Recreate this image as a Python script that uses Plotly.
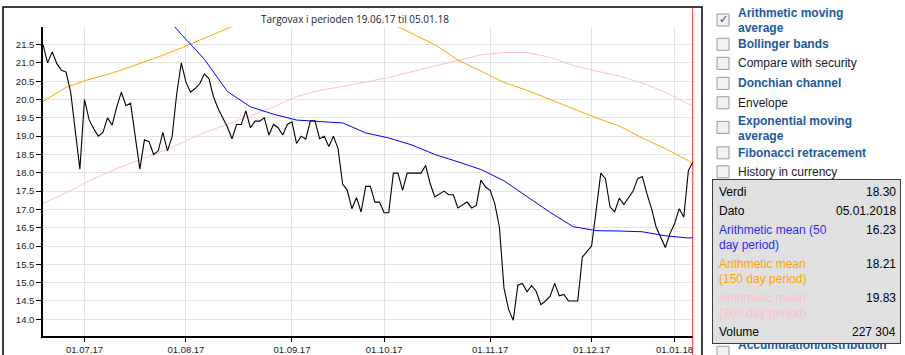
import plotly.graph_objects as go
import pandas as pd

# ---------------- data ----------------
title_text = "Targovax i perioden 19.06.17 til 05.01.18"
start_date, end_date = "2017-06-19", "2018-01-05"
holidays = ["2017-12-25", "2017-12-26", "2018-01-01"]
tick_months = ["2017-07-01", "2017-08-01", "2017-09-01", "2017-10-01",
               "2017-11-01", "2017-12-01", "2018-01-01"]
tick_labels = ["01.07.17", "01.08.17", "01.09.17", "01.10.17",
               "01.11.17", "01.12.17", "01.01.18"]

price = [21.5, 21.0, 21.3, 20.98, 20.8, 20.75, 20.2, 19.1, 18.1, 20.0,
         19.45, 19.2, 19.0, 19.1, 19.5, 19.3, 19.8, 20.2, 19.83, 19.9,
         19.0, 18.1, 18.9, 18.85, 18.5, 18.6, 19.1, 18.6, 18.98, 20.15,
         21.0, 20.48, 20.2, 20.3, 20.43, 20.7, 20.57, 20.07, 19.75, 19.48,
         19.25, 18.93, 19.32, 19.32, 19.69, 19.23, 19.41, 19.41, 19.5, 19.03,
         19.32, 19.23, 19.03, 19.32, 19.39, 18.8, 19.0, 18.92, 19.42, 19.42,
         18.93, 19.0, 18.72, 19.0, 18.66, 17.69, 17.52, 17.02, 17.32, 16.93,
         17.63, 17.63, 17.2, 17.2, 16.91, 16.91, 17.99, 17.99, 17.52, 17.99,
         17.99, 17.99, 17.99, 18.2, 17.7, 17.34, 17.41, 17.5, 17.4, 17.4,
         17.04, 17.11, 17.2, 17.04, 17.11, 17.8, 17.61, 17.52, 17.16, 16.52,
         14.85, 14.27, 13.97, 14.93, 14.98, 14.75, 14.92, 14.76, 14.4, 14.5,
         14.63, 14.98, 14.64, 14.68, 14.5, 14.5, 14.5, 15.7, 15.85, 16.0,
         16.98, 17.99, 17.84, 17.07, 16.93, 17.31, 17.13, 17.31, 17.5, 17.84,
         17.9, 17.43, 17.02, 16.52, 16.25, 15.96, 16.34, 16.61, 17.02, 16.79,
         18.06, 18.30]

ma_idx = [0, 5, 10, 15, 20, 25, 30, 35, 40, 45, 50, 55, 60, 65, 70, 75, 80,
          85, 90, 95, 100, 105, 110, 115, 120, 125, 130, 135, 140, 141]
ma50 = [23.6, 23.5, 23.4, 23.2, 22.9, 22.5, 21.78, 21.1, 20.22, 19.8, 19.6,
        19.44, 19.41, 19.36, 19.09, 18.95, 18.76, 18.5, 18.3, 18.09, 17.78,
        17.35, 16.92, 16.53, 16.42, 16.41, 16.39, 16.28, 16.22, 16.23]
ma150 = [19.95, 20.33, 20.55, 20.72, 20.94, 21.16, 21.41, 21.68, 21.95, 22.2,
         22.35, 22.45, 22.5, 22.45, 22.32, 22.12, 21.8, 21.5, 21.08, 20.77,
         20.47, 20.25, 20.0, 19.73, 19.5, 19.28, 18.95, 18.66, 18.33, 18.21]
ma200 = [17.16, 17.45, 17.78, 18.06, 18.31, 18.54, 18.81, 19.10, 19.32, 19.55,
         19.80, 20.08, 20.25, 20.36, 20.47, 20.60, 20.76, 20.92, 21.08, 21.22,
         21.28, 21.28, 21.15, 20.93, 20.78, 20.64, 20.45, 20.2, 19.88, 19.83]

y_ticks = [14.0, 14.5, 15.0, 15.5, 16.0, 16.5, 17.0, 17.5, 18.0, 18.5,
           19.0, 19.5, 20.0, 20.5, 21.0, 21.5]

panel_items = [  # (text, bold link, checked)
    ("Arithmetic moving<br>average", True, True),
    ("Bollinger bands", True, False),
    ("Compare with security", False, False),
    ("Donchian channel", True, False),
    ("Envelope", False, False),
    ("Exponential moving<br>average", True, False),
    ("Fibonacci retracement", True, False),
    ("History in currency", False, False),
]
tooltip_rows = [
    (["Verdi"], "18.30", "black"),
    (["Dato"], "05.01.2018", "black"),
    (["Arithmetic mean (50", "day period)"], "16.23", "#2b2bff"),
    (["Arithmetic mean", "(150 day period)"], "18.21", "#ffa500"),
    (["Arithmetic mean", "(200 day period)"], "19.83", "#ffc0cb"),
    (["Volume"], "227 304", "black"),
]

# ---------------- geometry ----------------
W, H = 905, 355
L, R, T, B = 43, 693, 27, 335.7


def PX(x):
    return (x - L) / (R - L)


def PY(y):
    return (B - y) / (B - T)


dates = pd.bdate_range(start_date, end_date, freq="C", holidays=holidays)
x_idx = list(range(len(price)))
tick_vals = [int((dates <= pd.Timestamp(m)).sum()) - 1 for m in tick_months]

fig = go.Figure()
fig.add_trace(go.Scatter(x=ma_idx, y=ma200, mode="lines",
                         line=dict(color="#ffc0cb", width=1), hoverinfo="skip"))
fig.add_trace(go.Scatter(x=ma_idx, y=ma150, mode="lines",
                         line=dict(color="#ffa500", width=1), hoverinfo="skip"))
fig.add_trace(go.Scatter(x=ma_idx, y=ma50, mode="lines",
                         line=dict(color="#0000ff", width=1), hoverinfo="skip"))
fig.add_trace(go.Scatter(x=x_idx, y=price, mode="lines",
                         line=dict(color="black", width=1.1), hoverinfo="skip"))

shapes = []
# outer frame
shapes.append(dict(type="rect", xref="paper", yref="paper",
                   x0=PX(3), x1=PX(702), y0=PY(362), y1=PY(7),
                   line=dict(color="black", width=1.5), layer="above"))
# red cursor line at the last point
shapes.append(dict(type="line", xref="x", yref="paper",
                   x0=x_idx[-1], x1=x_idx[-1], y0=PY(356), y1=PY(7),
                   line=dict(color="#ff0000", width=1.3), layer="above"))

annotations = []
annotations.append(dict(text=title_text, xref="paper", yref="paper",
                        x=PX(354.7), y=PY(19.5), xanchor="center", yanchor="middle",
                        showarrow=False,
                        font=dict(family="Open Sans", size=10, color="#222")))

# right panel checkboxes + labels
link_color = "#1c5a9e"
label_y = [13, 44.3, 63.3, 83.3, 102.7, 120.7, 152.7, 171.7]
box_y = [20, 44.3, 63.3, 83.3, 102.7, 127.3, 152.7, 171.7]
for (txt, bold, checked), ly, by in zip(panel_items, label_y, box_y):
    shapes.append(dict(type="rect", xref="paper", yref="paper",
                       x0=PX(717), x1=PX(729), y0=PY(by + 6), y1=PY(by - 6),
                       line=dict(color="#9a9a9a", width=1), fillcolor="#f2f2f2",
                       layer="above"))
    lines = txt.split("<br>")
    for k, part in enumerate(lines):
        annotations.append(dict(
            text=("<b>%s</b>" % part) if bold else part,
            xref="paper", yref="paper", x=PX(736), y=PY(ly + 15 * k),
            xanchor="left", yanchor="middle", showarrow=False,
            font=dict(family="Liberation Sans", size=12,
                      color=link_color if bold else "#1a1a1a")))
    if checked:
        annotations.append(dict(text="✓", xref="paper", yref="paper",
                                x=PX(723.3), y=PY(by), xanchor="center",
                                yanchor="middle", showarrow=False,
                                font=dict(family="DejaVu Sans", size=11,
                                          color="#3c3c90")))
# partially hidden item below the tooltip
shapes.append(dict(type="rect", xref="paper", yref="paper",
                   x0=PX(717), x1=PX(729), y0=PY(358), y1=PY(346),
                   line=dict(color="#9a9a9a", width=1), fillcolor="#f2f2f2",
                   layer="above"))
annotations.append(dict(text="<b>Accumulation/distribution</b>",
                        xref="paper", yref="paper", x=PX(736), y=PY(345),
                        xanchor="left", yanchor="middle", showarrow=False,
                        font=dict(family="Liberation Sans", size=12, color=link_color)))

# tooltip box (annotation so it covers the panel texts)
annotations.append(dict(text=" ", xref="paper", yref="paper",
                        x=PX(712.3), y=PY(179), xanchor="left", yanchor="top",
                        width=187, height=163, bgcolor="#e0e0e0",
                        bordercolor="#3a3a3a", borderwidth=1, borderpad=0,
                        showarrow=False))
row_y = [191.7, 210.7, 230, 264, 297.7, 331.7]
for (labels, val, col), ry in zip(tooltip_rows, row_y):
    for k, part in enumerate(labels):
        annotations.append(dict(text=part, xref="paper", yref="paper",
                                x=PX(717), y=PY(ry + 14.8 * k), xanchor="left",
                                yanchor="middle", showarrow=False,
                                font=dict(family="Liberation Sans", size=12, color=col)))
    annotations.append(dict(text=val, xref="paper", yref="paper",
                            x=PX(898), y=PY(ry), xanchor="right",
                            yanchor="middle", showarrow=False,
                            font=dict(family="Liberation Sans", size=12, color="black")))

fig.update_layout(
    width=W, height=H,
    margin=dict(l=L, r=W - R, t=T, b=H - B, pad=0, autoexpand=False),
    paper_bgcolor="white", plot_bgcolor="white",
    showlegend=False,
    shapes=shapes, annotations=annotations,
    xaxis=dict(range=[0, len(price) - 1], tickmode="array", tickvals=tick_vals,
               ticktext=tick_labels, showgrid=True, gridcolor="#e3e3e3",
               gridwidth=1, zeroline=False, showline=True, linecolor="black",
               linewidth=1.5, ticks="outside", ticklen=4, tickcolor="black",
               automargin=False,
               tickfont=dict(family="Liberation Sans", size=9.5, color="#222")),
    yaxis=dict(range=[13.544, 21.98], tickmode="array", tickvals=y_ticks,
               ticktext=["%.1f" % v for v in y_ticks], showgrid=True,
               gridcolor="#e3e3e3", gridwidth=1, zeroline=False,
               showline=True, linecolor="black", linewidth=1.5,
               ticks="outside", ticklen=5, tickcolor="black",
               automargin=False,
               tickfont=dict(family="Liberation Sans", size=9.5, color="#222")),
)

fig.write_html("out.html")
